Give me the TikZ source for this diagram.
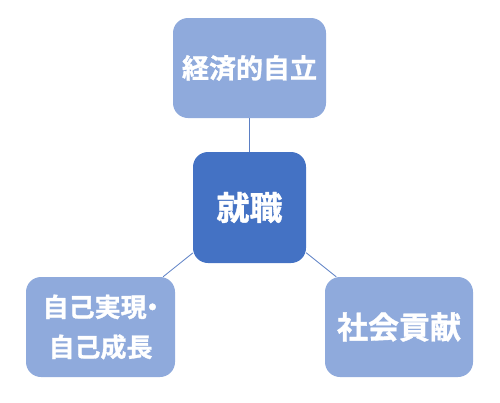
\documentclass[tikz,border=0pt]{standalone}
\usepackage{fontspec}
\newfontfamily\jpbold[FakeBold=1.2]{Noto Sans CJK JP Bold}
\usetikzlibrary{backgrounds}
\definecolor{lightbox}{HTML}{8FAADC}
\definecolor{darkbox}{HTML}{4472C4}
\definecolor{linkcol}{HTML}{5B7FC4}
\tikzset{
  box/.style={rounded corners=15pt, inner sep=0pt, text=white, align=center},
  outerbox/.style={box, fill=lightbox, minimum width=150pt, minimum height=100pt},
  centerbox/.style={box, fill=darkbox, minimum width=113pt, minimum height=111pt},
  link/.style={draw=linkcol, line width=0.8pt}
}
\begin{document}
\begin{tikzpicture}[x=1pt,y=-1pt]
\useasboundingbox (0,0) rectangle (500,402);
\node[outerbox, minimum width=153pt, font=\jpbold\fontsize{27pt}{32pt}\selectfont] (top) at (249.5,68) {経済的自立};
\node[centerbox, font=\jpbold\fontsize{33pt}{38pt}\selectfont] (center) at (249.5,207.5) {就職};
\node[outerbox, minimum width=149pt, font=\jpbold\fontsize{26pt}{40pt}\selectfont] (left) at (100.5,327) {自己実現\makebox[0.45em][c]{・}\\自己成長};
\node[outerbox, minimum width=148pt, font=\jpbold\fontsize{31pt}{36pt}\selectfont] (right) at (399,327) {社会貢献};
\begin{scope}[on background layer]
\draw[link] (center) -- (top);
\draw[link] (center) -- (left);
\draw[link] (center) -- (right);
\end{scope}
\end{tikzpicture}
\end{document}
